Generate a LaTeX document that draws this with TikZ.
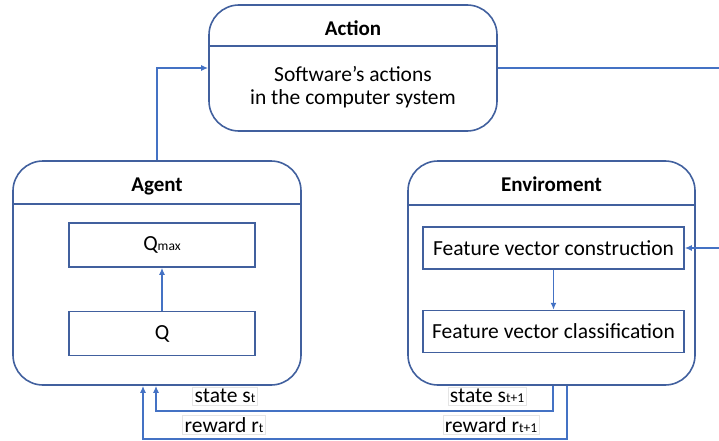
\documentclass[tikz,border=0pt]{standalone}
\usepackage{fontspec}
\setmainfont{Carlito}
\usetikzlibrary{positioning, arrows.meta}

\definecolor{boxblue}{HTML}{41609E}
\definecolor{lineblue}{HTML}{4472C4}
\newcommand{\lowtext}[1]{{\fontsize{13.5}{13.5}\selectfont #1}}

\tikzset{
  panel/.style={draw=boxblue, line width=1.6pt, rounded corners=30pt, rectangle},
  inbox/.style={draw=boxblue, line width=1.5pt, rectangle},
  title/.style={font=\fontsize{21}{25}\selectfont\bfseries},
  link/.style={draw=lineblue, line width=1.4pt, ->},
  tag/.style={draw=black!10, line width=0.6pt, inner sep=2pt},
}

\begin{document}
\begin{tikzpicture}[>={Latex[length=7pt,width=6pt]}, x=1pt, y=1pt, font=\fontsize{21.5}{23}\selectfont]
\useasboundingbox (0,0) rectangle (719,-441);

% action on top
\node[panel, minimum width=288pt, minimum height=126pt] (action) at (353,-68) {};
\draw[boxblue, line width=1.5pt] (action.west |- 0,-46) -- (action.east |- 0,-46);
\node[title] (actiontitle) at (353,-28) {Action};
\node[align=center] (actiontext) at (353,-87) {Software’s actions\\in the computer system};

% agent
\node[panel, minimum width=288pt, minimum height=224pt] (agent) at (157,-273) {};
\draw[boxblue, line width=1.5pt] (agent.west |- 0,-204) -- (agent.east |- 0,-204);
\node[title] (agenttitle) at (157,-186) {Agent};
\node[inbox, minimum width=186pt, minimum height=44pt] (qmax) at (162,-245) {Q\lowtext{max}};
\node[inbox, minimum width=186pt, minimum height=44pt, below=43pt of qmax] (q) {Q};

% environment
\node[panel, minimum width=287pt, minimum height=224pt] (env) at (551.5,-273) {};
\draw[boxblue, line width=1.5pt] (env.west |- 0,-205) -- (env.east |- 0,-205);
\node[title] (envtitle) at (551.5,-184) {Enviroment};
\node[inbox, minimum width=261pt, minimum height=42pt] (constr) at (553.5,-248) {Feature vector construction};
\node[inbox, minimum width=261pt, minimum height=42pt, below=40pt of constr] (classif) {Feature vector classification};

% connectors
\coordinate (offright) at (730,-68);
\coordinate (statecorner) at (553,-411);
\coordinate (rewardcorner) at (567,-439);

\draw[link] (agent.north) |- (action.west);
\draw[link] (action.east) -- (offright) |- (constr.east);
\draw[link] (q) -- (qmax);
\draw[link] (constr) -- (classif);
\draw[link] (statecorner |- env.south) -- (statecorner) -| ([xshift=-1pt]agent.south);
\draw[link] (rewardcorner |- env.south) -- (rewardcorner) -| ([xshift=-14pt]agent.south);

% labels
\node[tag] (statet) at (225,-396) {state s\lowtext{t}};
\node[tag] (rewardt) at (224,-425) {reward r\lowtext{t}};
\node[tag] (statenext) at (487,-396) {state s\lowtext{t+1}};
\node[tag] (rewardnext) at (491,-425) {reward r\lowtext{t+1}};
\end{tikzpicture}
\end{document}
